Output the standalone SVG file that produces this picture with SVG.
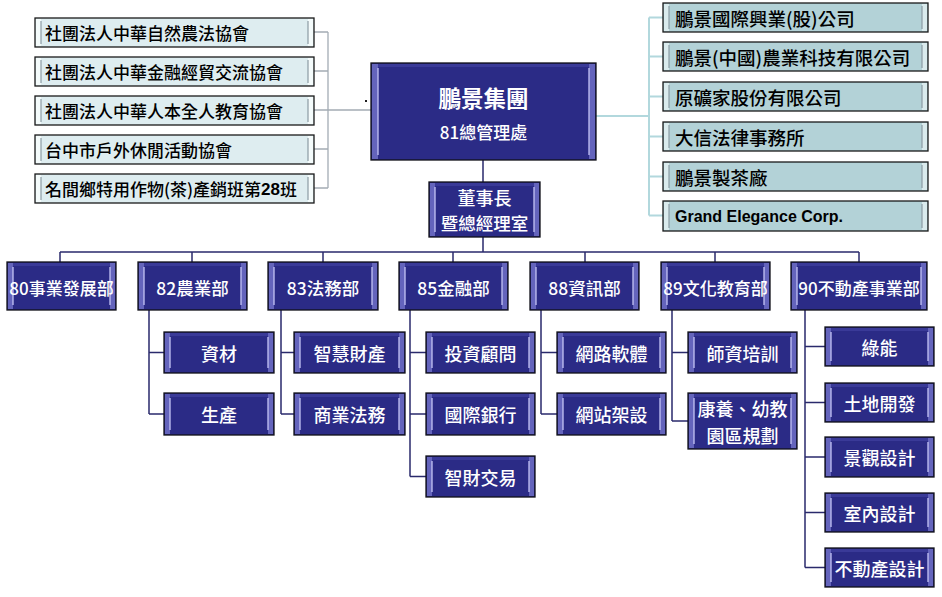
<svg xmlns="http://www.w3.org/2000/svg" width="942" height="597" viewBox="0 0 942 597">
<style>
.nv{fill:#2b2b86;stroke:#101018;stroke-width:1.3}
.nb{fill:#6464bc}
.nt{fill:#3a3a98}
.nl{stroke:#c4c4f4;stroke-width:1.3;fill:none}
.lb{fill:#deedf0;stroke:#1a1a1a;stroke-width:1.3}
.rb{fill:#b3d2d7;stroke:#1a1a1a;stroke-width:1.3}
.ls{fill:#f4fbfb}
.ll{stroke:#8c9ca4;stroke-width:1.2;fill:none}
.wt{font-family:"Noto Sans CJK TC","Noto Sans CJK SC",sans-serif;fill:#ffffff;font-size:17.5px;font-weight:500;text-anchor:middle;dominant-baseline:central}
.s18{font-size:18px}
.s17{font-size:17px}
.bt{font-family:"Noto Sans CJK TC","Noto Sans CJK SC",sans-serif;fill:#000000;font-size:17px;font-weight:500;dominant-baseline:central}
.r18{font-size:18.5px}
.en{font-family:"Liberation Sans",Arial,sans-serif;font-weight:bold;font-size:16px;fill:#000;dominant-baseline:central}
.cg{stroke:#a4acb4;stroke-width:1.3;fill:none}
.cb{stroke:#b2d8dd;stroke-width:2;fill:none}
.cn{stroke:#2a2a6c;stroke-width:1.5;fill:none}
</style>
<rect x="0" y="0" width="942" height="597" fill="#ffffff"/>

<g id="connectors">
<path class="cg" d="M314 32H328M314 71H328M314 110H328M314 149H328M314 188H328M328 32V188M328 110H371"/>
<rect x="365" y="100" width="2" height="2" fill="#202020"/>
<path class="cb" d="M596 116H649M649 17.5V215.5M649 17.5H663M649 56.5H663M649 96.5H663M649 136.5H663M649 176.5H663M649 215.5H663"/>
<path class="cn" d="M483 160V182M483 237V252M60 252H859M60 252V262M192 252V262M323 252V262M453 252V262M585 252V262M715 252V262M859 252V262"/>
<path class="cn" d="M149 310V414M149 352.5H164M149 414H164"/>
<path class="cn" d="M281 310V414M281 352.5H294M281 414H294"/>
<path class="cn" d="M410 310V476.5M410 352.5H426M410 414H426M410 476.5H426"/>
<path class="cn" d="M541 310V414M541 352.5H557M541 414H557"/>
<path class="cn" d="M672 310V421M672 352.5H688M672 421H688"/>
<path class="cn" d="M805 310V567.5M805 346.5H825M805 402.5H825M805 457H825M805 512.5H825M805 567.5H825"/>
</g>

<!-- left associations -->
<g id="assoc1"><rect class="lb" x="35" y="18" width="279" height="29"/><rect class="ls" x="36" y="19" width="5" height="27"/><rect class="ls" x="308" y="19" width="5" height="27"/><path class="ll" d="M41 21V44M308 21V44"/><text class="bt" x="45" y="32.5">社團法人中華自然農法協會</text></g>
<g id="assoc2"><rect class="lb" x="35" y="57" width="279" height="29"/><rect class="ls" x="36" y="58" width="5" height="27"/><rect class="ls" x="308" y="58" width="5" height="27"/><path class="ll" d="M41 60V83M308 60V83"/><text class="bt" x="45" y="71.5">社團法人中華金融經貿交流協會</text></g>
<g id="assoc3"><rect class="lb" x="35" y="96" width="279" height="29"/><rect class="ls" x="36" y="97" width="5" height="27"/><rect class="ls" x="308" y="97" width="5" height="27"/><path class="ll" d="M41 99V122M308 99V122"/><text class="bt" x="45" y="110.5">社團法人中華人本全人教育協會</text></g>
<g id="assoc4"><rect class="lb" x="35" y="135" width="279" height="29"/><rect class="ls" x="36" y="136" width="5" height="27"/><rect class="ls" x="308" y="136" width="5" height="27"/><path class="ll" d="M41 138V161M308 138V161"/><text class="bt" x="45" y="149.5">台中市戶外休閒活動協會</text></g>
<g id="assoc5"><rect class="lb" x="35" y="174" width="279" height="29"/><rect class="ls" x="36" y="175" width="5" height="27"/><rect class="ls" x="308" y="175" width="5" height="27"/><path class="ll" d="M41 177V200M308 177V200"/><text class="bt" x="45" y="188.5">名間鄉特用作物(茶)產銷班第<tspan font-family="Liberation Sans, sans-serif" font-weight="bold">28</tspan>班</text></g>

<!-- right companies -->
<g id="co1"><rect class="rb" x="663" y="3" width="265" height="29"/><rect class="ls" x="664" y="4" width="5" height="27" opacity="0.6"/><rect class="ls" x="922" y="4" width="5" height="27" opacity="0.6"/><path class="ll" d="M669 6V29M922 6V29"/><text class="bt r18" x="675" y="17.5">鵬景國際興業(股)公司</text></g>
<g id="co2"><rect class="rb" x="663" y="42" width="265" height="29"/><rect class="ls" x="664" y="43" width="5" height="27" opacity="0.6"/><rect class="ls" x="922" y="43" width="5" height="27" opacity="0.6"/><path class="ll" d="M669 45V68M922 45V68"/><text class="bt r18" x="675" y="56.5">鵬景(中國)農業科技有限公司</text></g>
<g id="co3"><rect class="rb" x="663" y="82" width="265" height="29"/><rect class="ls" x="664" y="83" width="5" height="27" opacity="0.6"/><rect class="ls" x="922" y="83" width="5" height="27" opacity="0.6"/><path class="ll" d="M669 85V108M922 85V108"/><text class="bt r18" x="675" y="96.5">原礦家股份有限公司</text></g>
<g id="co4"><rect class="rb" x="663" y="122" width="265" height="29"/><rect class="ls" x="664" y="123" width="5" height="27" opacity="0.6"/><rect class="ls" x="922" y="123" width="5" height="27" opacity="0.6"/><path class="ll" d="M669 125V148M922 125V148"/><text class="bt r18" x="675" y="136.5">大信法律事務所</text></g>
<g id="co5"><rect class="rb" x="663" y="162" width="265" height="29"/><rect class="ls" x="664" y="163" width="5" height="27" opacity="0.6"/><rect class="ls" x="922" y="163" width="5" height="27" opacity="0.6"/><path class="ll" d="M669 165V188M922 165V188"/><text class="bt r18" x="675" y="176.5">鵬景製茶廠</text></g>
<g id="co6"><rect class="rb" x="663" y="201" width="265" height="30"/><rect class="ls" x="664" y="202" width="5" height="28" opacity="0.6"/><rect class="ls" x="922" y="202" width="5" height="28" opacity="0.6"/><path class="ll" d="M669 204V228M922 204V228"/><text class="en" x="675" y="216">Grand Elegance Corp.</text></g>

<!-- main -->
<g id="main"><rect class="nv" x="371" y="63" width="225" height="97"/><rect class="nt" x="372" y="64" width="223" height="3"/><rect class="nb" x="372" y="64" width="6" height="95"/><rect class="nb" x="589" y="64" width="6" height="95"/><path class="nl" d="M378 68V155M589 68V155"/>
<text class="wt" x="483.5" y="97" style="font-size:22.5px;font-weight:bold">鵬景集團</text><text class="wt s17" x="483.5" y="131">81總管理處</text></g>
<g id="chairman"><rect class="nv" x="429" y="182" width="111" height="55"/><rect class="nt" x="430" y="183" width="109" height="3"/><rect class="nb" x="430" y="183" width="5" height="53"/><rect class="nb" x="534" y="183" width="5" height="53"/><path class="nl" d="M435 187V232M534 187V232"/>
<text class="wt s18" x="484.5" y="197">董事長</text><text class="wt" x="484.5" y="222">暨總經理室</text></g>

<!-- departments -->
<g id="d80"><rect class="nv" x="7" y="262" width="109" height="48"/><rect class="nt" x="8" y="263" width="107" height="3"/><rect class="nb" x="8" y="263" width="5" height="46"/><rect class="nb" x="110" y="263" width="5" height="46"/><path class="nl" d="M13 267V305M110 267V305"/><text class="wt s17" x="61.5" y="287">80事業發展部</text></g>
<g id="d82"><rect class="nv" x="138" y="262" width="109" height="48"/><rect class="nt" x="139" y="263" width="107" height="3"/><rect class="nb" x="139" y="263" width="5" height="46"/><rect class="nb" x="241" y="263" width="5" height="46"/><path class="nl" d="M144 267V305M241 267V305"/><text class="wt" x="192.5" y="287">82農業部</text></g>
<g id="d83"><rect class="nv" x="268" y="262" width="110" height="48"/><rect class="nt" x="269" y="263" width="108" height="3"/><rect class="nb" x="269" y="263" width="5" height="46"/><rect class="nb" x="372" y="263" width="5" height="46"/><path class="nl" d="M274 267V305M372 267V305"/><text class="wt" x="323" y="287">83法務部</text></g>
<g id="d85"><rect class="nv" x="399" y="262" width="109" height="48"/><rect class="nt" x="400" y="263" width="107" height="3"/><rect class="nb" x="400" y="263" width="5" height="46"/><rect class="nb" x="502" y="263" width="5" height="46"/><path class="nl" d="M405 267V305M502 267V305"/><text class="wt" x="453.5" y="287">85金融部</text></g>
<g id="d88"><rect class="nv" x="530" y="262" width="109" height="48"/><rect class="nt" x="531" y="263" width="107" height="3"/><rect class="nb" x="531" y="263" width="5" height="46"/><rect class="nb" x="633" y="263" width="5" height="46"/><path class="nl" d="M536 267V305M633 267V305"/><text class="wt" x="584.5" y="287">88資訊部</text></g>
<g id="d89"><rect class="nv" x="661" y="262" width="109" height="48"/><rect class="nt" x="662" y="263" width="107" height="3"/><rect class="nb" x="662" y="263" width="5" height="46"/><rect class="nb" x="764" y="263" width="5" height="46"/><path class="nl" d="M667 267V305M764 267V305"/><text class="wt s17" x="715.5" y="287">89文化教育部</text></g>
<g id="d90"><rect class="nv" x="791" y="262" width="136" height="48"/><rect class="nt" x="792" y="263" width="134" height="3"/><rect class="nb" x="792" y="263" width="5" height="46"/><rect class="nb" x="921" y="263" width="5" height="46"/><path class="nl" d="M797 267V305M921 267V305"/><text class="wt s17" x="859" y="287">90不動產事業部</text></g>

<!-- sub units -->
<g id="s1"><rect class="nv" x="164" y="332" width="110" height="41"/><rect class="nt" x="165" y="333" width="108" height="3"/><rect class="nb" x="165" y="333" width="5" height="39"/><rect class="nb" x="268" y="333" width="5" height="39"/><path class="nl" d="M170 337V368M268 337V368"/><text class="wt s18" x="219" y="352.5">資材</text></g>
<g id="s2"><rect class="nv" x="164" y="393" width="110" height="42"/><rect class="nt" x="165" y="394" width="108" height="3"/><rect class="nb" x="165" y="394" width="5" height="40"/><rect class="nb" x="268" y="394" width="5" height="40"/><path class="nl" d="M170 398V430M268 398V430"/><text class="wt s18" x="219" y="414">生產</text></g>
<g id="s3"><rect class="nv" x="294" y="332" width="111" height="41"/><rect class="nt" x="295" y="333" width="109" height="3"/><rect class="nb" x="295" y="333" width="5" height="39"/><rect class="nb" x="399" y="333" width="5" height="39"/><path class="nl" d="M300 337V368M399 337V368"/><text class="wt s18" x="349.5" y="352.5">智慧財產</text></g>
<g id="s4"><rect class="nv" x="294" y="393" width="111" height="42"/><rect class="nt" x="295" y="394" width="109" height="3"/><rect class="nb" x="295" y="394" width="5" height="40"/><rect class="nb" x="399" y="394" width="5" height="40"/><path class="nl" d="M300 398V430M399 398V430"/><text class="wt s18" x="349.5" y="414">商業法務</text></g>
<g id="s5"><rect class="nv" x="426" y="332" width="109" height="41"/><rect class="nt" x="427" y="333" width="107" height="3"/><rect class="nb" x="427" y="333" width="5" height="39"/><rect class="nb" x="529" y="333" width="5" height="39"/><path class="nl" d="M432 337V368M529 337V368"/><text class="wt s18" x="480.5" y="352.5">投資顧問</text></g>
<g id="s6"><rect class="nv" x="426" y="393" width="109" height="42"/><rect class="nt" x="427" y="394" width="107" height="3"/><rect class="nb" x="427" y="394" width="5" height="40"/><rect class="nb" x="529" y="394" width="5" height="40"/><path class="nl" d="M432 398V430M529 398V430"/><text class="wt s18" x="480.5" y="414">國際銀行</text></g>
<g id="s7"><rect class="nv" x="426" y="456" width="109" height="41"/><rect class="nt" x="427" y="457" width="107" height="3"/><rect class="nb" x="427" y="457" width="5" height="39"/><rect class="nb" x="529" y="457" width="5" height="39"/><path class="nl" d="M432 461V492M529 461V492"/><text class="wt s18" x="480.5" y="476.5">智財交易</text></g>
<g id="s8"><rect class="nv" x="557" y="332" width="109" height="41"/><rect class="nt" x="558" y="333" width="107" height="3"/><rect class="nb" x="558" y="333" width="5" height="39"/><rect class="nb" x="660" y="333" width="5" height="39"/><path class="nl" d="M563 337V368M660 337V368"/><text class="wt s18" x="611.5" y="352.5">網路軟體</text></g>
<g id="s9"><rect class="nv" x="557" y="393" width="109" height="42"/><rect class="nt" x="558" y="394" width="107" height="3"/><rect class="nb" x="558" y="394" width="5" height="40"/><rect class="nb" x="660" y="394" width="5" height="40"/><path class="nl" d="M563 398V430M660 398V430"/><text class="wt s18" x="611.5" y="414">網站架設</text></g>
<g id="s10"><rect class="nv" x="688" y="332" width="109" height="41"/><rect class="nt" x="689" y="333" width="107" height="3"/><rect class="nb" x="689" y="333" width="5" height="39"/><rect class="nb" x="791" y="333" width="5" height="39"/><path class="nl" d="M694 337V368M791 337V368"/><text class="wt s18" x="742.5" y="352.5">師資培訓</text></g>
<g id="s11"><rect class="nv" x="688" y="393" width="109" height="56"/><rect class="nt" x="689" y="394" width="107" height="3"/><rect class="nb" x="689" y="394" width="5" height="54"/><rect class="nb" x="791" y="394" width="5" height="54"/><path class="nl" d="M694 398V444M791 398V444"/><text class="wt s18" x="742.5" y="408">康養、幼教</text><text class="wt s18" x="742.5" y="435">園區規劃</text></g>
<g id="s12"><rect class="nv" x="825" y="327" width="109" height="39"/><rect class="nt" x="826" y="328" width="107" height="3"/><rect class="nb" x="826" y="328" width="5" height="37"/><rect class="nb" x="928" y="328" width="5" height="37"/><path class="nl" d="M831 332V361M928 332V361"/><text class="wt s18" x="879.5" y="346.5">綠能</text></g>
<g id="s13"><rect class="nv" x="825" y="383" width="109" height="39"/><rect class="nt" x="826" y="384" width="107" height="3"/><rect class="nb" x="826" y="384" width="5" height="37"/><rect class="nb" x="928" y="384" width="5" height="37"/><path class="nl" d="M831 388V417M928 388V417"/><text class="wt s18" x="879.5" y="402.5">土地開發</text></g>
<g id="s14"><rect class="nv" x="825" y="437" width="109" height="40"/><rect class="nt" x="826" y="438" width="107" height="3"/><rect class="nb" x="826" y="438" width="5" height="38"/><rect class="nb" x="928" y="438" width="5" height="38"/><path class="nl" d="M831 442V472M928 442V472"/><text class="wt s18" x="879.5" y="457">景觀設計</text></g>
<g id="s15"><rect class="nv" x="825" y="493" width="109" height="39"/><rect class="nt" x="826" y="494" width="107" height="3"/><rect class="nb" x="826" y="494" width="5" height="37"/><rect class="nb" x="928" y="494" width="5" height="37"/><path class="nl" d="M831 498V527M928 498V527"/><text class="wt s18" x="879.5" y="512.5">室內設計</text></g>
<g id="s16"><rect class="nv" x="825" y="548" width="109" height="39"/><rect class="nt" x="826" y="549" width="107" height="3"/><rect class="nb" x="826" y="549" width="5" height="37"/><rect class="nb" x="928" y="549" width="5" height="37"/><path class="nl" d="M831 553V582M928 553V582"/><text class="wt s18" x="879.5" y="567.5">不動產設計</text></g>
</svg>
